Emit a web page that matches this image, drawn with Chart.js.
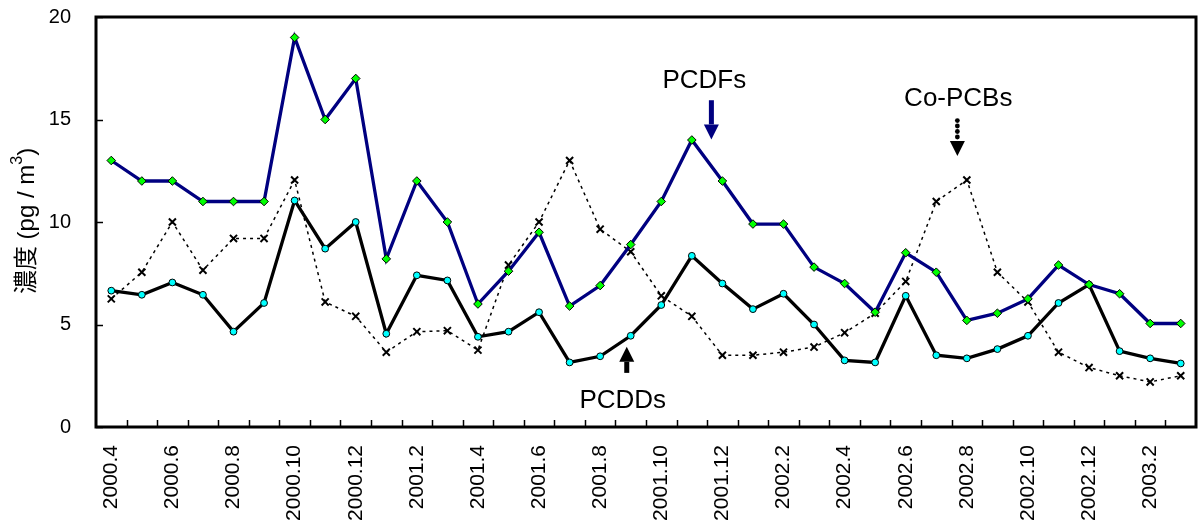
<!DOCTYPE html>
<html>
<head>
<meta charset="utf-8">
<script src="https://cdn.jsdelivr.net/npm/chart.js@4/dist/chart.umd.min.js"></script>
<style>
  html, body { margin: 0; padding: 0; background: #fff; }
  #wrap { width: 1203px; height: 525px; position: relative; }
</style>
</head>
<body>
<div id="wrap"><canvas id="c" width="1203" height="525"></canvas></div>
<script>
// Monthly sampling periods
const months = [
  '2000.4','2000.5','2000.6','2000.7','2000.8','2000.9','2000.10','2000.11','2000.12',
  '2001.1','2001.2','2001.3','2001.4','2001.5','2001.6','2001.7','2001.8','2001.9','2001.10','2001.11','2001.12',
  '2002.1','2002.2','2002.3','2002.4','2002.5','2002.6','2002.7','2002.8','2002.9','2002.10','2002.11','2002.12',
  '2003.1','2003.2','2003.3'
];

// Concentrations (pg/m3)
const pcdfs = [13, 12, 12, 11, 11, 11, 19, 15, 17, 8.2, 12, 10, 6, 7.6, 9.5, 5.9, 6.9, 8.9, 11, 14, 12, 9.9, 9.9, 7.8, 7, 5.6, 8.5, 7.55, 5.2, 5.55, 6.25, 7.9, 6.95, 6.5, 5.05, 5.05];
const pcdds = [6.65, 6.45, 7.05, 6.45, 4.65, 6.05, 11.05, 8.7, 10, 4.55, 7.4, 7.15, 4.4, 4.65, 5.6, 3.15, 3.45, 4.45, 5.95, 8.35, 7, 5.75, 6.5, 5, 3.25, 3.15, 6.4, 3.5, 3.35, 3.8, 4.45, 6.05, 6.95, 3.7, 3.35, 3.1];
const copcbs = [6.25, 7.55, 10, 7.65, 9.2, 9.2, 12.05, 6.1, 5.4, 3.65, 4.65, 4.7, 3.75, 7.9, 10, 13, 9.65, 8.55, 6.4, 5.4, 3.5, 3.5, 3.65, 3.9, 4.6, 5.55, 7.1, 11, 12.05, 7.55, 6.1, 3.65, 2.9, 2.5, 2.2, 2.5];

// Y axis ticks
const yTicks = [0, 5, 10, 15, 20];

const FONT = "'Liberation Sans', Arial, 'Noto Sans CJK JP', sans-serif";

// Series labels with arrows, placed in data space (category index, value)
const callouts = [
  { text: 'PCDFs',   tx: 19.41, ty: 16.87, ax: 19.64, from: 15.94, to: 14.03, color: '#000080', style: 'solid' },
  { text: 'Co-PCBs', tx: 27.72, ty: 15.99, ax: 27.69, from: 14.95, to: 13.22, color: '#000000', style: 'dots' },
  { text: 'PCDDs',   tx: 16.74, ty: 1.29,  ax: 16.87, from: 2.64,  to: 3.91,  color: '#000000', style: 'solid' }
];

// Value axis title pieces: [text, size, baseline shift]
const yTitle = [['濃度 (pg / m', 24, 0], ['3', 16, -9], [')', 24, 0]];

const framePlugin = {
  id: 'frame',
  beforeDatasetsDraw(chart) {
    const { ctx, chartArea: a, scales: { x, y } } = chart;
    ctx.save();
    ctx.strokeStyle = '#000';
    ctx.lineWidth = 1.5;
    // inward tick marks on the category axis, between months
    for (let i = 1; i < months.length; i++) {
      const px = Math.round(x.getPixelForValue(i - 0.5)) + 0.5;
      ctx.beginPath();
      ctx.moveTo(px, a.bottom);
      ctx.lineTo(px, a.bottom - 7);
      ctx.stroke();
    }
    // inward tick marks on the value axis
    yTicks.forEach(v => {
      const py = Math.round(y.getPixelForValue(v)) + 0.5;
      ctx.beginPath();
      ctx.moveTo(a.left, py);
      ctx.lineTo(a.left + 7, py);
      ctx.stroke();
    });

    // value axis title, rotated, with superscript
    ctx.save();
    ctx.translate(27, (a.top + a.bottom) / 2 - 1);
    ctx.rotate(-Math.PI / 2);
    ctx.fillStyle = '#000';
    ctx.textBaseline = 'middle';
    ctx.textAlign = 'left';
    let total = 0;
    yTitle.forEach(([t, s]) => { ctx.font = s + 'px ' + FONT; total += ctx.measureText(t).width; });
    let cx = -total / 2;
    yTitle.forEach(([t, s, dy]) => {
      ctx.font = s + 'px ' + FONT;
      ctx.fillText(t, cx, dy);
      cx += ctx.measureText(t).width;
    });
    ctx.restore();
    ctx.restore();
  },
  afterDatasetsDraw(chart) {
    const { ctx, chartArea: a, scales: { x, y } } = chart;
    ctx.save();
    // plot frame
    ctx.strokeStyle = '#000';
    ctx.lineWidth = 3;
    ctx.strokeRect(a.left, a.top, a.right - a.left, a.bottom - a.top);

    // callouts
    callouts.forEach(c => {
      ctx.fillStyle = '#000';
      ctx.font = '26px ' + FONT;
      ctx.textAlign = 'center';
      ctx.textBaseline = 'middle';
      ctx.fillText(c.text, x.getPixelForValue(c.tx), y.getPixelForValue(c.ty));

      const ax = x.getPixelForValue(c.ax);
      const y0 = y.getPixelForValue(c.from);
      const y1 = y.getPixelForValue(c.to);
      const sgn = y1 > y0 ? 1 : -1;
      const head = 15;
      const yb = y1 - sgn * head;
      ctx.fillStyle = c.color;
      ctx.strokeStyle = c.color;
      if (c.style === 'dots') {
        const n = 4;
        for (let k = 0; k < n; k++) {
          const py = y0 + (yb - y0 - 4 * sgn) * k / (n - 1);
          ctx.beginPath();
          ctx.arc(ax, py, 2.4, 0, Math.PI * 2);
          ctx.fill();
        }
      } else {
        ctx.fillRect(ax - 2.5, Math.min(y0, yb), 5, Math.abs(yb - y0));
      }
      ctx.beginPath();
      ctx.moveTo(ax - 7.5, yb);
      ctx.lineTo(ax + 7.5, yb);
      ctx.lineTo(ax, y1);
      ctx.closePath();
      ctx.fill();
    });
    ctx.restore();
  }
};

new Chart(document.getElementById('c'), {
  type: 'line',
  data: {
    labels: months,
    datasets: [
      {
        label: 'PCDFs',
        data: pcdfs,
        borderColor: '#000080',
        borderWidth: 3.3,
        pointStyle: 'rectRot',
        pointRadius: 4.3,
        pointBackgroundColor: '#00ff00',
        pointBorderColor: '#000',
        pointBorderWidth: 1,
        tension: 0
      },
      {
        label: 'PCDDs',
        data: pcdds,
        borderColor: '#000',
        borderWidth: 3.3,
        pointStyle: 'circle',
        pointRadius: 3.4,
        pointBackgroundColor: '#00ffff',
        pointBorderColor: '#000',
        pointBorderWidth: 1,
        tension: 0
      },
      {
        label: 'Co-PCBs',
        data: copcbs,
        borderColor: '#000',
        borderWidth: 1.5,
        borderDash: [3, 4],
        pointStyle: 'crossRot',
        pointRadius: 5,
        pointBorderColor: '#000',
        pointBorderWidth: 2,
        tension: 0
      }
    ]
  },
  options: {
    responsive: false,
    animation: false,
    devicePixelRatio: 1,
    layout: { padding: { top: 17, right: 3, left: 0, bottom: 0 } },
    plugins: { legend: { display: false }, tooltip: { enabled: false } },
    scales: {
      x: {
        type: 'category',
        offset: true,
        grid: { display: false, offset: true },
        border: { display: false },
        ticks: {
          autoSkip: false,
          minRotation: 90,
          maxRotation: 90,
          padding: 10,
          color: '#000',
          font: { family: FONT, size: 21 },
          callback: function (v, i) { return i % 2 === 0 ? months[i] : ''; }
        },
        afterFit(s) { s.height = 98; s.paddingLeft = 0; s.paddingRight = 0; s.paddingTop = 0; s.paddingBottom = 0; }
      },
      y: {
        min: 0,
        max: 20,
        afterBuildTicks(s) { s.ticks = yTicks.map(v => ({ value: v })); },
        grid: { display: false },
        border: { display: false },
        ticks: {
          padding: 17,
          color: '#000',
          font: { family: FONT, size: 20 }
        },
        afterFit(s) { s.width = 96; s.paddingTop = 0; s.paddingBottom = 0; s.paddingLeft = 0; s.paddingRight = 0; }
      }
    }
  },
  plugins: [framePlugin]
});
</script>
</body>
</html>
